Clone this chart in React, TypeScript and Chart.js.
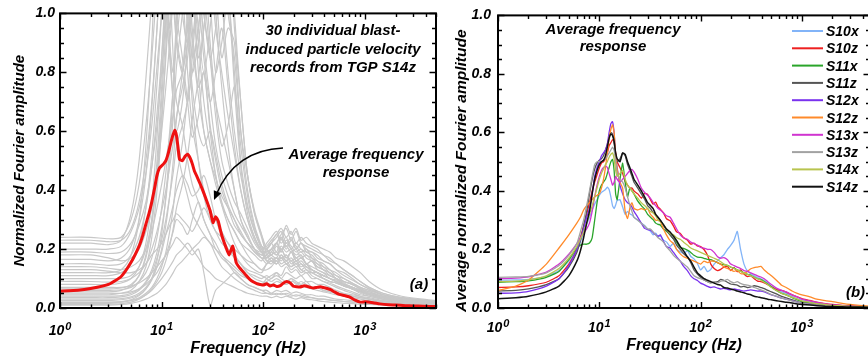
import React, { useEffect, useRef } from 'react';
import { Chart, registerables } from 'chart.js';

Chart.register(...registerables);

const FONT_FAMILY = "'Liberation Sans', Arial, Helvetica, sans-serif";

// ---------------- Panel (a): 30 individual records ----------------
const RECORD_FREQ = [1, 2, 3, 4, 5, 6, 7,
  8, 9, 10, 11, 12, 13, 14,
  16, 18, 20, 23, 26, 30, 34,
  39, 45, 52, 60, 70, 82, 96,
  108, 120, 135, 150, 168, 188, 210,
  235, 265, 300, 340, 390, 450, 520,
  620, 750, 900, 1100, 1500, 2300, 5000];

const RECORD_01 = [.24, .24, .235, .24, .30, .42, .62, .85, 1.1, 1.3, 1.2, .95, 1.15, 1.35, 1.1, .8, .62, .5, .4, .33, .3, .26, .22, .2, .18, .16, .15, .13,
  .15, .17, .15, .18, .16, .19, .17, .18, .15, .16, .14, .13, .11, .1, .08, .07, .055, .045, .03, .022, .012];
const RECORD_02 = [.23, .23, .225, .23, .27, .36, .5, .7, .95, 1.2, 1.4, 1.25, 1.05, .9, .8, .95, .7, .5, .38, .3, .26, .24, .2, .17, .15, .12, .11, .1,
  .11, .1, .12, .11, .14, .12, .13, .11, .12, .1, .1, .09, .08, .07, .06, .05, .04, .035, .025, .018, .01];
const RECORD_03 = [.22, .22, .215, .23, .32, .5, .78, 1.05, 1.3, 1.5, 1.3, 1.1, .85, .7, .62, .5, .42, .36, .3, .25, .22, .18, .16, .14, .12, .1, .09, .08,
  .09, .1, .11, .1, .09, .1, .08, .09, .08, .07, .07, .06, .055, .05, .045, .04, .035, .03, .02, .015, .01];
const RECORD_04 = [.2, .2, .2, .21, .26, .34, .46, .62, .82, 1.0, 1.2, 1.4, 1.6, 1.3, 1.0, .9, 1.1, .8, .6, .5, .42, .35, .3, .26, .22, .2, .18, .16,
  .2, .22, .19, .24, .21, .23, .2, .22, .19, .18, .16, .15, .13, .12, .1, .085, .07, .06, .045, .035, .02];
const RECORD_05 = [.19, .19, .185, .19, .22, .28, .36, .48, .62, .8, .98, 1.15, 1.3, 1.2, 1.4, 1.2, .95, .75, .8, .62, .5, .4, .34, .28, .25, .22, .2, .19,
  .22, .24, .26, .23, .28, .25, .27, .23, .24, .22, .21, .2, .19, .17, .16, .14, .12, .09, .06, .04, .025];
const RECORD_06 = [.18, .18, .17, .16, .17, .2, .26, .34, .46, .6, .75, .9, 1.05, 1.2, 1.3, 1.5, 1.35, 1.2, 1.0, .85, .7, .6, .5, .4, .3, .25, .2, .18,
  .2, .18, .21, .19, .22, .2, .18, .19, .17, .16, .15, .13, .12, .1, .09, .08, .065, .055, .04, .03, .018];
const RECORD_07 = [.165, .165, .16, .17, .21, .3, .45, .68, .95, 1.2, 1.1, .9, .8, .95, 1.2, 1.4, 1.1, .85, .95, 1.2, 1.0, .75, .55, .4, .3, .24, .2, .17,
  .18, .2, .22, .19, .23, .21, .19, .2, .18, .17, .15, .14, .12, .11, .09, .08, .065, .055, .04, .03, .02];
const RECORD_08 = [.15, .15, .145, .15, .18, .24, .34, .48, .66, .85, 1.05, 1.25, 1.1, .92, .8, .7, .85, 1.1, 1.3, 1.05, .8, .9, 1.05, .8, .5, .35, .26, .2,
  .16, .15, .17, .16, .18, .15, .16, .14, .15, .13, .12, .11, .1, .09, .08, .065, .055, .045, .035, .025, .015];
const RECORD_09 = [.14, .14, .135, .13, .14, .16, .2, .26, .34, .42, .5, .58, .66, .74, .8, .9, 1.05, 1.2, 1.35, 1.2, 1.05, 1.15, 1.3, 1.0, .7, .45, .33, .25,
  .18, .16, .15, .17, .15, .14, .16, .13, .14, .12, .11, .1, .09, .085, .075, .065, .055, .045, .035, .027, .02];
const RECORD_10 = [.13, .13, .125, .12, .12, .13, .15, .18, .2, .22, .25, .28, .3, .32, .3, .28, .26, .3, .34, .3, .26, .22, .2, .18, .15, .13, .12, .11,
  .1, .09, .1, .09, .08, .1, .09, .08, .09, .07, .07, .06, .055, .05, .045, .04, .035, .03, .022, .017, .01];
const RECORD_11 = [.12, .12, .12, .13, .18, .3, .55, .9, 1.3, 1.5, 1.2, .9, .7, .55, .45, .38, .32, .28, .25, .22, .2, .17, .15, .13, .11, .1, .09, .08,
  .1, .11, .12, .1, .12, .11, .1, .11, .09, .09, .08, .08, .07, .06, .05, .045, .04, .03, .025, .018, .01];
const RECORD_12 = [.11, .11, .11, .12, .15, .22, .34, .52, .76, 1.0, 1.25, 1.1, 1.3, 1.5, 1.2, .95, .75, .6, .55, .6, .52, .42, .35, .3, .25, .22, .19, .17,
  .17, .19, .18, .21, .19, .2, .17, .18, .15, .16, .13, .12, .11, .1, .085, .07, .06, .05, .035, .025, .015];
const RECORD_13 = [.1, .1, .1, .1, .11, .14, .2, .3, .45, .65, .85, 1.05, 1.25, 1.45, 1.3, 1.05, .85, .95, 1.15, .9, .7, .55, .62, .75, .55, .38, .27, .21,
  .2, .22, .24, .26, .22, .24, .2, .22, .2, .19, .18, .16, .15, .13, .12, .1, .08, .065, .045, .032, .02];
const RECORD_14 = [.09, .09, .088, .09, .1, .12, .15, .2, .26, .33, .4, .48, .56, .65, .75, .85, 1.0, 1.15, 1.0, .85, .95, 1.15, 1.3, .95, .7, .45, .32, .25,
  .2, .18, .17, .2, .17, .19, .16, .17, .15, .14, .13, .12, .1, .095, .08, .07, .06, .05, .04, .03, .02];
const RECORD_15 = [.08, .08, .08, .085, .1, .14, .22, .36, .58, .85, 1.1, 1.35, 1.2, 1.0, .85, .7, .58, .65, .8, .6, .45, .35, .28, .22, .18, .15, .13, .12,
  .15, .16, .17, .15, .16, .14, .15, .13, .12, .12, .11, .1, .09, .085, .075, .065, .05, .04, .03, .02, .012];
const RECORD_16 = [.07, .07, .07, .07, .075, .085, .1, .12, .14, .16, .18, .2, .22, .24, .22, .2, .18, .2, .12, .01, .06, .08, .1, .12, .1, .08, .07, .06,
  .06, .05, .06, .055, .06, .05, .055, .05, .045, .045, .04, .04, .035, .03, .028, .025, .022, .02, .015, .01, .006];
const RECORD_17 = [.065, .065, .065, .068, .08, .11, .17, .28, .46, .7, .95, 1.2, 1.45, 1.3, 1.1, 1.25, 1.45, 1.2, .9, .7, .55, .45, .38, .32, .28, .24, .2, .18,
  .18, .2, .22, .24, .2, .23, .21, .19, .2, .17, .16, .14, .13, .11, .1, .085, .07, .06, .045, .032, .02];
const RECORD_18 = [.06, .06, .06, .062, .07, .09, .12, .17, .24, .34, .46, .6, .75, .9, 1.1, 1.3, 1.15, .95, .8, .95, 1.2, 1.4, 1.1, .75, .48, .32, .24, .19,
  .17, .19, .22, .25, .27, .23, .26, .22, .21, .2, .19, .18, .16, .15, .13, .11, .09, .07, .05, .035, .022];
const RECORD_19 = [.055, .055, .055, .06, .075, .11, .18, .3, .5, .75, 1.0, .85, .7, .6, .7, .9, 1.1, .9, .7, .55, .45, .36, .3, .26, .22, .18, .15, .13,
  .13, .14, .16, .14, .15, .13, .14, .12, .13, .11, .1, .09, .085, .075, .065, .055, .045, .04, .03, .02, .012];
const RECORD_20 = [.05, .05, .05, .05, .055, .065, .08, .1, .12, .15, .18, .22, .26, .3, .28, .25, .3, .36, .3, .25, .2, .18, .15, .12, .1, .08, .07, .06,
  .05, .05, .045, .05, .045, .04, .045, .04, .035, .035, .03, .03, .028, .025, .022, .02, .018, .015, .012, .008, .005];
const RECORD_21 = [.045, .045, .045, .05, .06, .09, .14, .24, .4, .62, .88, 1.15, 1.4, 1.6, 1.35, 1.1, .9, .72, .6, .5, .44, .38, .34, .3, .26, .22, .19, .17,
  .15, .16, .15, .17, .15, .16, .14, .15, .13, .12, .12, .1, .09, .085, .075, .065, .055, .045, .035, .025, .015];
const RECORD_22 = [.04, .04, .04, .042, .05, .065, .09, .13, .19, .27, .37, .5, .65, .82, 1.0, 1.2, 1.4, 1.25, 1.05, 1.2, 1.3, 1.05, .8, .6, .45, .34, .26, .21,
  .2, .22, .25, .22, .24, .2, .22, .2, .19, .19, .17, .16, .15, .13, .11, .095, .08, .065, .045, .03, .02];
const RECORD_23 = [.035, .035, .035, .038, .045, .06, .085, .12, .17, .23, .3, .38, .46, .55, .62, .7, .8, .95, 1.1, 1.25, 1.1, .85, .95, .9, .6, .45, .32, .24,
  .19, .2, .18, .2, .17, .19, .16, .17, .15, .13, .12, .11, .1, .09, .08, .07, .06, .05, .04, .03, .02];
const RECORD_24 = [.03, .03, .03, .032, .038, .05, .07, .1, .14, .19, .25, .3, .35, .4, .45, .42, .38, .4, .45, .38, .3, .25, .22, .18, .15, .12, .1, .09,
  .085, .08, .09, .085, .08, .09, .085, .075, .07, .065, .06, .055, .05, .045, .04, .035, .03, .025, .018, .012, .008];
const RECORD_25 = [.025, .025, .025, .028, .034, .045, .065, .095, .14, .2, .28, .38, .5, .64, .8, 1.0, 1.2, 1.05, .85, .7, .8, .95, .75, .55, .4, .3, .24, .2,
  .21, .23, .25, .27, .24, .26, .22, .24, .22, .21, .2, .18, .17, .15, .13, .11, .09, .07, .05, .035, .022];
const RECORD_26 = [.02, .02, .02, .022, .027, .035, .05, .07, .1, .14, .19, .26, .34, .44, .56, .72, .9, 1.1, 1.3, 1.15, .95, .8, .65, .52, .4, .3, .23, .19,
  .16, .17, .16, .18, .16, .17, .15, .16, .14, .13, .12, .11, .1, .09, .08, .07, .06, .05, .035, .025, .015];
const RECORD_27 = [.018, .018, .018, .02, .025, .032, .044, .06, .08, .1, .12, .14, .16, .18, .2, .22, .2, .17, .14, .12, .1, .09, .08, .07, .06, .05, .045, .04,
  .04, .035, .04, .035, .04, .035, .03, .035, .03, .028, .025, .022, .02, .018, .016, .015, .013, .012, .01, .008, .005];
const RECORD_28 = [.015, .015, .016, .02, .028, .042, .065, .1, .16, .25, .38, .55, .75, .98, 1.2, 1.0, .8, .9, 1.05, .85, .65, .5, .42, .36, .32, .27, .22, .19,
  .19, .2, .22, .2, .21, .19, .2, .17, .18, .16, .14, .13, .12, .1, .09, .08, .065, .055, .04, .03, .02];
const RECORD_29 = [.012, .012, .013, .015, .02, .03, .045, .065, .09, .12, .16, .21, .27, .34, .42, .52, .64, .78, .95, 1.15, 1.35, 1.2, 1.0, .85, .6, .4, .28, .21,
  .17, .18, .19, .17, .18, .16, .17, .15, .14, .13, .12, .11, .1, .09, .075, .065, .055, .045, .035, .025, .015];
const RECORD_30 = [.01, .01, .01, .012, .016, .022, .03, .04, .05, .065, .08, .1, .12, .14, .16, .18, .2, .22, .24, .22, .18, .14, .12, .1, .085, .07, .06, .05,
  .05, .045, .05, .045, .05, .045, .04, .045, .04, .035, .032, .03, .027, .025, .022, .02, .018, .015, .012, .009, .006];

const RECORDS = [RECORD_01, RECORD_02, RECORD_03, RECORD_04, RECORD_05, RECORD_06, RECORD_07, RECORD_08, RECORD_09, RECORD_10,
  RECORD_11, RECORD_12, RECORD_13, RECORD_14, RECORD_15, RECORD_16, RECORD_17, RECORD_18, RECORD_19, RECORD_20,
  RECORD_21, RECORD_22, RECORD_23, RECORD_24, RECORD_25, RECORD_26, RECORD_27, RECORD_28, RECORD_29, RECORD_30];

// ---------------- Average frequency responses ----------------
const AVG_FREQ = [1, 1.5, 2, 3, 4, 5, 6, 6.5, 7, 7.5,
  8, 8.5, 9, 9.5, 10, 10.5, 11, 11.5, 12, 12.5,
  13, 13.5, 14, 14.5, 15, 16, 17, 18, 19, 20,
  21, 22, 24, 26, 28, 30, 32, 34, 36, 38,
  40, 43, 46, 50, 54, 58, 63, 68, 74, 80,
  86, 93, 100, 108, 117, 126, 136, 147, 158, 170,
  184, 198, 214, 230, 248, 268, 290, 313, 338, 365,
  394, 425, 460, 500, 560, 630, 700, 800, 900, 1000,
  1200, 1400, 1700, 2000, 2500, 3000, 3700, 5000];

const AVG_S14Z_RECORDS = [.057, .06, .066, .08, .107, .155, .21, .245, .285, .32,
  .36, .405, .45, .475, .483, .49, .5, .52, .545, .57,
  .59, .603, .585, .545, .505, .5, .515, .522, .51, .49,
  .465, .45, .42, .39, .36, .33, .29, .31, .295, .262,
  .235, .205, .18, .21, .155, .138, .124, .11, .096, .088,
  .083, .08, .078, .082, .075, .078, .073, .076, .085, .09,
  .085, .074, .072, .071, .075, .074, .07, .068, .07, .072,
  .069, .066, .062, .055, .046, .042, .038, .027, .02, .021,
  .018, .014, .011, .01, .008, .007, .006, .005];

// ---------------- Panel (b): station averages ----------------
const STATION_NAMES = ['S10x', 'S10z', 'S11x', 'S11z', 'S12x', 'S12z', 'S13x', 'S13z', 'S14x', 'S14z'];
const STATION_COLORS = ['#82b4f8', '#ee2020', '#2aa52a', '#555555', '#7a32ee', '#ff8a2a', '#d034d0', '#a2a2a2', '#b8c44e', '#111111'];

const AVG_S10X = [.095, .096, .098, .108, .128, .16, .2, .225, .255, .285,
  .31, .335, .355, .37, .385, .395, .4, .405, .413, .405,
  .38, .35, .34, .352, .368, .37, .345, .32, .33, .322,
  .318, .31, .3, .29, .282, .27, .262, .25, .256, .244,
  .246, .232, .226, .21, .222, .2, .192, .186, .196, .176,
  .168, .152, .13, .142, .124, .132, .15, .162, .172, .182,
  .2, .214, .232, .262, .2, .15, .126, .117, .11, .104,
  .1, .094, .086, .075, .064, .055, .05, .04, .032, .028,
  .022, .018, .013, .01, .008, .006, .005, .004];
const AVG_S10Z = [.07, .072, .076, .088, .11, .15, .2, .24, .28, .32,
  .36, .4, .43, .455, .478, .495, .5, .51, .53, .555,
  .565, .575, .57, .53, .5, .48, .46, .432, .42, .41,
  .41, .4, .39, .375, .392, .388, .37, .355, .362, .345,
  .338, .325, .305, .298, .28, .26, .255, .24, .232, .218,
  .222, .212, .21, .2, .18, .15, .135, .128, .132, .14,
  .142, .128, .138, .124, .13, .116, .107, .11, .1, .092,
  .09, .086, .08, .072, .063, .06, .054, .045, .038, .032,
  .026, .02, .015, .012, .009, .007, .005, .004];
const AVG_S11X = [.088, .09, .093, .105, .125, .165, .205, .215, .218, .218,
  .222, .24, .3, .36, .4, .42, .43, .44, .46, .48,
  .5, .508, .47, .39, .37, .44, .495, .43, .38, .41,
  .4, .39, .365, .35, .338, .32, .31, .302, .29, .286,
  .284, .27, .262, .25, .236, .224, .206, .204, .198, .19,
  .18, .174, .173, .17, .166, .165, .16, .155, .15, .148,
  .146, .14, .136, .13, .126, .12, .115, .112, .105, .1,
  .097, .09, .082, .072, .06, .05, .045, .035, .028, .022,
  .018, .014, .011, .009, .007, .006, .005, .004];
const AVG_S11Z = [.058, .06, .065, .08, .1, .14, .19, .23, .28, .33,
  .39, .44, .475, .495, .505, .51, .52, .54, .56, .585,
  .6, .595, .565, .52, .5, .51, .53, .52, .49, .47,
  .45, .43, .41, .39, .372, .35, .34, .326, .32, .308,
  .3, .282, .266, .25, .236, .215, .2, .186, .174, .155,
  .13, .116, .105, .096, .09, .086, .088, .09, .098, .094,
  .088, .082, .08, .078, .072, .074, .07, .072, .076, .074,
  .07, .066, .06, .055, .048, .04, .035, .028, .022, .018,
  .014, .011, .008, .007, .005, .004, .003, .003];
const AVG_S12X = [.05, .052, .057, .075, .1, .145, .2, .235, .27, .31,
  .34, .39, .45, .48, .5, .52, .53, .54, .56, .6,
  .63, .637, .6, .52, .48, .42, .39, .37, .36, .355,
  .345, .33, .31, .29, .272, .268, .266, .258, .25, .245,
  .25, .228, .21, .205, .19, .175, .16, .142, .128, .11,
  .1, .094, .085, .08, .074, .07, .072, .068, .065, .067,
  .064, .062, .065, .063, .06, .058, .06, .062, .06, .058,
  .058, .055, .05, .045, .04, .034, .03, .025, .02, .016,
  .013, .01, .008, .006, .005, .004, .003, .003];
const AVG_S12Z = [.06, .075, .095, .15, .205, .25, .29, .31, .335, .35,
  .36, .37, .38, .385, .39, .41, .44, .48, .53, .58,
  .61, .626, .6, .52, .475, .43, .41, .33, .306, .34,
  .36, .34, .335, .34, .335, .34, .32, .31, .3, .3,
  .296, .27, .25, .23, .22, .2, .185, .175, .17, .165,
  .16, .155, .15, .16, .155, .16, .16, .155, .15, .14,
  .135, .13, .125, .128, .118, .117, .125, .134, .138, .14,
  .142, .13, .12, .11, .095, .078, .07, .058, .05, .045,
  .038, .03, .025, .022, .016, .012, .009, .006];
const AVG_S13X = [.1, .102, .106, .123, .15, .184, .22, .24, .255, .27,
  .29, .33, .38, .42, .45, .47, .48, .485, .48, .46,
  .44, .42, .43, .45, .44, .43, .44, .45, .46, .47,
  .474, .465, .44, .41, .395, .385, .375, .36, .35, .34,
  .335, .325, .315, .31, .29, .27, .25, .24, .235, .225,
  .22, .215, .207, .205, .2, .2, .19, .175, .17, .172,
  .165, .15, .145, .14, .135, .128, .125, .12, .115, .11,
  .106, .1, .09, .08, .068, .06, .055, .045, .038, .03,
  .024, .019, .014, .011, .008, .006, .005, .004];
const AVG_S13Z = [.105, .106, .108, .12, .145, .18, .22, .26, .3, .35,
  .4, .45, .49, .5, .5, .5, .505, .51, .52, .53,
  .54, .55, .54, .5, .46, .44, .43, .41, .38, .35,
  .33, .31, .3, .29, .28, .27, .27, .26, .25, .24,
  .235, .225, .21, .195, .18, .17, .16, .15, .14, .125,
  .11, .104, .1, .096, .09, .086, .09, .085, .092, .093,
  .098, .09, .086, .09, .084, .08, .078, .075, .07, .066,
  .062, .058, .052, .046, .04, .034, .03, .024, .02, .016,
  .013, .01, .008, .006, .005, .004, .003, .003];
const AVG_S14X = [.09, .092, .096, .11, .135, .17, .21, .235, .26, .29,
  .32, .35, .38, .41, .44, .46, .475, .49, .5, .515,
  .525, .53, .51, .47, .45, .46, .47, .44, .42, .41,
  .4, .39, .375, .36, .35, .34, .33, .325, .315, .3,
  .295, .285, .27, .255, .25, .24, .235, .225, .215, .205,
  .2, .195, .19, .185, .18, .175, .17, .165, .158, .15,
  .145, .14, .135, .13, .125, .12, .115, .11, .105, .1,
  .095, .088, .08, .07, .06, .05, .044, .036, .03, .024,
  .019, .015, .012, .009, .007, .005, .004, .003];
const AVG_S14Z = [.032, .035, .04, .055, .075, .11, .16, .195, .24, .29,
  .33, .39, .44, .47, .49, .5, .505, .52, .55, .58,
  .595, .59, .57, .53, .51, .5, .53, .525, .5, .48,
  .46, .44, .42, .4, .38, .36, .35, .34, .32, .31,
  .3, .285, .27, .26, .245, .23, .21, .195, .175, .16,
  .14, .12, .11, .1, .095, .09, .085, .08, .078, .07,
  .068, .065, .062, .058, .055, .052, .048, .045, .04, .038,
  .035, .033, .03, .028, .025, .022, .02, .017, .014, .012,
  .01, .008, .006, .005, .004, .003, .003, .002];

const STATION_AVERAGES = [AVG_S10X, AVG_S10Z, AVG_S11X, AVG_S11Z, AVG_S12X, AVG_S12Z, AVG_S13X, AVG_S13Z, AVG_S14X, AVG_S14Z];

const X_LABEL_EXPONENTS = [0, 1, 2, 3];
const SUPERSCRIPT_TEXT = ['0', '1', '2', '3'];

// ---------------- helpers ----------------
const toPoints = (freq: number[], vals: number[]) => freq.map((f, i) => ({ x: f, y: vals[i] }));
const font = (size: number) => ({ family: FONT_FAMILY, size, style: 'italic' as const, weight: 'bold' as const });
const cssFont = (size: number) => `italic bold ${size}px ${FONT_FAMILY}`;

type TextItem = { lines: string[]; x: number; y: number; lh: number; size: number; align?: CanvasTextAlign };

function makePanelPlugin(cfg: {
  labelBaseline: number;
  texts: TextItem[];
  arrow?: boolean;
  legend?: boolean;
  yTitle?: { text: string; x: number; y: number; size: number };
}) {
  return {
    id: 'panelDecor',
    afterDraw(chart: any) {
      const { ctx, chartArea: a } = chart;
      const xs = chart.scales.x;
      const ys = chart.scales.y;
      ctx.save();
      ctx.strokeStyle = '#000';
      ctx.fillStyle = '#000';
      // inward ticks on all four sides
      ctx.lineWidth = 1.4;
      ctx.beginPath();
      const d0 = Math.floor(Math.log10(xs.min));
      const d1 = Math.ceil(Math.log10(xs.max));
      for (let d = d0; d <= d1; d++) {
        for (let k = 1; k <= 9; k++) {
          const v = k * Math.pow(10, d);
          if (v < xs.min - 1e-9 || v > xs.max + 1e-9) continue;
          const px = Math.round(xs.getPixelForValue(v)) + 0.5;
          const len = k === 1 ? 6 : 3.5;
          ctx.moveTo(px, a.bottom); ctx.lineTo(px, a.bottom - len);
          ctx.moveTo(px, a.top); ctx.lineTo(px, a.top + len);
        }
      }
      for (let i = 0; i <= 20; i++) {
        const v = i * 0.05;
        const py = Math.round(ys.getPixelForValue(v)) + 0.5;
        const len = i % 4 === 0 ? 6.5 : 4;
        ctx.moveTo(a.left, py); ctx.lineTo(a.left + len, py);
        ctx.moveTo(a.right, py); ctx.lineTo(a.right - len, py);
      }
      ctx.stroke();
      // frame
      ctx.lineWidth = 2;
      ctx.strokeRect(a.left, a.top, a.right - a.left, a.bottom - a.top);

      // x tick labels 10^n
      ctx.textBaseline = 'alphabetic';
      ctx.textAlign = 'left';
      X_LABEL_EXPONENTS.forEach((e, i) => {
        const v = Math.pow(10, e);
        if (v < xs.min || v > xs.max) return;
        const px = xs.getPixelForValue(v);
        ctx.font = cssFont(14);
        const wb = ctx.measureText('10').width;
        ctx.font = cssFont(11);
        const we = ctx.measureText(SUPERSCRIPT_TEXT[i]).width;
        const start = px - (wb + 1 + we) / 2;
        ctx.font = cssFont(14);
        ctx.fillText('10', start, cfg.labelBaseline);
        ctx.font = cssFont(11);
        ctx.fillText(SUPERSCRIPT_TEXT[i], start + wb + 1, cfg.labelBaseline - 5);
      });

      // rotated y title (custom placement)
      if (cfg.yTitle) {
        ctx.save();
        ctx.translate(cfg.yTitle.x, cfg.yTitle.y);
        ctx.rotate(-Math.PI / 2);
        ctx.font = cssFont(cfg.yTitle.size);
        ctx.textAlign = 'left';
        ctx.textBaseline = 'middle';
        ctx.fillText(cfg.yTitle.text, 0, 0);
        ctx.restore();
      }

      // annotation texts
      ctx.textBaseline = 'alphabetic';
      cfg.texts.forEach((t) => {
        ctx.font = cssFont(t.size);
        ctx.textAlign = t.align || 'center';
        t.lines.forEach((ln, j) => ctx.fillText(ln, t.x, t.y + j * t.lh));
      });

      // curved arrow
      if (cfg.arrow) {
        const p0 = { x: 283, y: 148 };
        const c = { x: 235, y: 150 };
        const p2 = { x: 214, y: 200 };
        ctx.lineWidth = 1.4;
        ctx.beginPath();
        ctx.moveTo(p0.x, p0.y);
        ctx.quadraticCurveTo(c.x, c.y, p2.x + 2, p2.y - 5);
        ctx.stroke();
        const dx = p2.x - c.x, dy = p2.y - c.y;
        const L = Math.hypot(dx, dy);
        const ux = dx / L, uy = dy / L;
        const hl = 9, hw = 4;
        ctx.beginPath();
        ctx.moveTo(p2.x, p2.y);
        ctx.lineTo(p2.x - ux * hl - uy * hw, p2.y - uy * hl + ux * hw);
        ctx.lineTo(p2.x - ux * hl + uy * hw, p2.y - uy * hl - ux * hw);
        ctx.closePath();
        ctx.fill();
      }

      // legend
      if (cfg.legend) {
        ctx.font = cssFont(14);
        ctx.textAlign = 'left';
        chart.data.datasets.forEach((ds: any, i: number) => {
          const yb = 36 + i * 17.3;
          ctx.strokeStyle = ds.borderColor;
          ctx.lineWidth = 2;
          ctx.beginPath();
          ctx.moveTo(352, yb - 5);
          ctx.lineTo(383, yb - 5);
          ctx.stroke();
          ctx.fillStyle = '#000';
          ctx.fillText(ds.label, 386, yb);
        });
      }
      ctx.restore();
    },
  };
}

function baseOptions(opts: { xMax: number; padRight: number; yWidth: number; yTitle: string | null; yTitleSize: number; yTitlePad: number; yTickPad: number; xTitleBottom: number }) {
  return {
    responsive: false,
    animation: false as const,
    devicePixelRatio: 1,
    events: [],
    layout: { padding: { left: 0, right: opts.padRight, top: 10, bottom: 0 } },
    plugins: { legend: { display: false }, tooltip: { enabled: false } },
    elements: { point: { radius: 0 } },
    scales: {
      x: {
        type: 'logarithmic' as const,
        min: 1,
        max: opts.xMax,
        grid: { display: false, drawTicks: false },
        border: { display: false },
        ticks: { display: false },
        title: { display: true, text: 'Frequency (Hz)', color: '#000', font: font(16), padding: { top: 0, bottom: opts.xTitleBottom } },
        afterFit: (s: any) => { s.height = 50; },
      },
      y: {
        min: 0,
        max: 1,
        grid: { display: false, drawTicks: false },
        border: { display: false },
        ticks: { stepSize: 0.2, padding: opts.yTickPad, color: '#000', font: font(14), callback: (v: any) => Number(v).toFixed(1) },
        title: { display: !!opts.yTitle, text: opts.yTitle || '', color: '#000', font: font(opts.yTitleSize), padding: { top: opts.yTitlePad, bottom: 0 } },
        afterFit: (s: any) => { s.width = opts.yWidth; },
      },
    },
  };
}

function buildLeftConfig(): any {
  const datasets: any[] = [
    {
      label: 'Average frequency response',
      data: toPoints(AVG_FREQ, AVG_S14Z_RECORDS),
      borderColor: '#ee1111',
      borderWidth: 3,
      tension: 0.15,
      fill: false,
    },
    ...RECORDS.map((r, i) => ({
      label: `Record ${i + 1}`,
      data: toPoints(RECORD_FREQ, r),
      borderColor: '#c8c8c8',
      borderWidth: 1.2,
      tension: 0.3,
      fill: false,
    })),
  ];
  return {
    type: 'line',
    data: { datasets },
    options: baseOptions({ xMax: 5000, padRight: 4, yWidth: 60, yTitle: 'Normalized Fourier amplitude', yTitleSize: 15, yTitlePad: 11, yTickPad: 5, xTitleBottom: 0 }),
    plugins: [makePanelPlugin({
      labelBaseline: 335,
      arrow: true,
      texts: [
        { lines: ['30 individual blast-', 'induced particle velocity', 'records from TGP S14z'], x: 333, y: 35, lh: 18.6, size: 15 },
        { lines: ['Average frequency', 'response'], x: 356, y: 159, lh: 17.5, size: 15 },
        { lines: ['(a)'], x: 419, y: 289, lh: 0, size: 15 },
      ],
    })],
  };
}

function buildRightConfig(): any {
  const n = STATION_NAMES.length;
  const datasets = STATION_NAMES.map((name, i) => ({
    label: name,
    data: toPoints(AVG_FREQ, STATION_AVERAGES[i]),
    borderColor: STATION_COLORS[i],
    borderWidth: name === 'S14z' ? 1.5 : 1.3,
    tension: 0.15,
    fill: false,
    order: n - 1 - i,
  }));
  return {
    type: 'line',
    data: { datasets },
    options: baseOptions({ xMax: 4700, padRight: 10, yWidth: 58, yTitle: null, yTitleSize: 16, yTitlePad: 0, yTickPad: 7, xTitleBottom: 3 }),
    plugins: [makePanelPlugin({
      labelBaseline: 332,
      legend: true,
      yTitle: { text: 'Average normalized Fourier amplitude', x: 22, y: 312, size: 15.5 },
      texts: [
        { lines: ['Average frequency', 'response'], x: 173, y: 34, lh: 17, size: 15 },
        { lines: ['(b)'], x: 415.5, y: 297, lh: 0, size: 15 },
      ],
    })],
  };
}

function Panel({ build, left }: { build: () => any; left: number }) {
  const ref = useRef<HTMLCanvasElement>(null);
  useEffect(() => {
    const chart = new Chart(ref.current as HTMLCanvasElement, build());
    return () => chart.destroy();
  }, [build]);
  return (
    <canvas
      ref={ref}
      width={440}
      height={358}
      style={{ position: 'absolute', left, top: 0, width: 440, height: 358 }}
    />
  );
}

export default function App() {
  return (
    <div style={{ position: 'absolute', left: 0, top: 0, width: 868, height: 358, overflow: 'hidden', background: '#fff' }}>
      <Panel build={buildLeftConfig} left={0} />
      <Panel build={buildRightConfig} left={440} />
    </div>
  );
}
